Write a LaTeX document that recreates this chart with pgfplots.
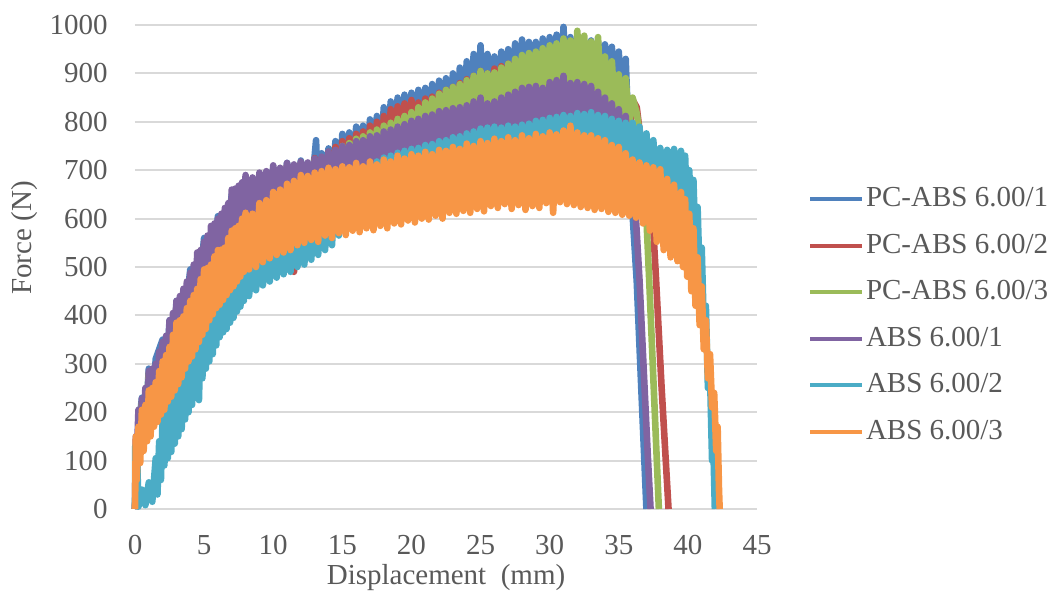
\documentclass[border=0pt]{standalone}
\usepackage{fontspec}
\setmainfont{Liberation Serif}
\usepackage{pgfplots}
\pgfplotsset{compat=1.18}
\definecolor{pcA}{HTML}{4F81BD}
\definecolor{pcB}{HTML}{C0504D}
\definecolor{pcC}{HTML}{9BBB59}
\definecolor{absA}{HTML}{8064A2}
\definecolor{absB}{HTML}{4BACC6}
\definecolor{absC}{HTML}{F79646}
\definecolor{inkMuted}{HTML}{595959}
\definecolor{gridLine}{HTML}{D9D9D9}
\newcommand{\chartfont}{\fontsize{14.5}{17}\selectfont}

\begin{document}
\begin{tikzpicture}
\begin{axis}[
  scale only axis, width=311pt, height=242pt,
  xmin=0, xmax=45, ymin=0, ymax=1000,
  xtick={0,5,...,45}, ytick={0,100,...,1000},
  scaled y ticks=false,
  /pgf/number format/1000 sep={},
  /pgf/number format/assume math mode=true,
  axis line style={draw=none}, tick style={draw=none},
  ymajorgrids, major grid style={gridLine, line width=1pt},
  clip=false,
  ticklabel style={font=\chartfont, text=inkMuted},
  yticklabel style={anchor=east, inner sep=0pt, xshift=-13.5pt},
  xticklabel style={anchor=north, inner sep=0pt, yshift=-13pt},
  xlabel={Displacement\ \ (mm)}, ylabel={Force (N)},
  every axis x label/.style={at={(axis description cs:0.5,0)}, yshift=-34.5pt,
    anchor=center, font=\chartfont, text=inkMuted},
  every axis y label/.style={at={(axis description cs:-0.178,0.56)}, rotate=90,
    anchor=center, font=\chartfont, text=inkMuted},
  every axis plot/.append style={line width=3.3pt, line join=round},
  legend cell align=left,
  legend image code/.code={\draw[#1, line width=2pt] (0pt,0pt) -- (26pt,0pt);},
  legend style={draw=none, fill=none, at={(axis description cs:1.082,0.4)},
    anchor=west, inner sep=0pt, outer sep=0pt, font=\chartfont, text=inkMuted,
    row sep=9.75pt, nodes={inner xsep=1pt, inner ysep=0pt, text height=10.5pt, text depth=3pt}},
]
% PC-ABS 6.00/1
\addplot[pcA] coordinates {
(0,0) (0.25,160) (0.5,230) (0.75,170) (1,290) (1.25,205) (1.5,310) (2,350) (2.25,270)
(2.5,390) (2.75,300) (3,430) (3.5,360) (4,495) (4.5,410) (5,560) (5.5,465) (6,605)
(6.5,510) (7,650) (7.5,545) (8,680) (8.5,565) (9,690) (9.5,580) (10,705) (10.5,595)
(11,715) (11.5,605) (12,720) (12.5,615) (13,730) (13.1,762) (13.25,625) (13.5,735)
(13.75,630) (14,745) (14.25,640) (14.5,760) (14.75,650) (15,775) (15.25,665) (15.5,778)
(15.75,675) (16,790) (16.25,685) (16.5,792) (16.75,695) (17,805) (17.25,705) (17.5,812)
(17.75,712) (18,830) (18.25,718) (18.5,842) (18.75,725) (19,850) (19.25,732) (19.5,856)
(19.75,738) (20,860) (20.25,742) (20.5,866) (20.75,748) (21,870) (21.25,752) (21.5,878)
(21.75,758) (22,885) (22.25,762) (22.5,890) (22.75,770) (23,900) (23.25,775) (23.5,912)
(23.75,780) (24,925) (24.25,785) (24.5,940) (24.75,795) (25,958) (25.25,800) (25.5,940)
(25.75,802) (26,935) (26.25,805) (26.5,945) (26.75,808) (27,950) (27.25,810) (27.5,962)
(27.75,815) (28,970) (28.25,820) (28.5,965) (28.75,822) (29,965) (29.25,825) (29.5,972)
(29.75,828) (30,975) (30.25,830) (30.5,980) (30.75,832) (31,996) (31.25,835) (31.5,975)
(31.75,835) (32,970) (32.25,834) (32.5,966) (32.75,832) (33,968) (33.25,830) (33.5,965)
(33.75,825) (34,960) (34.25,820) (34.5,955) (34.75,810) (35,945) (35.25,800) (35.5,930)
(35.8,700) (36.3,470) (37,0)};
\addlegendentry{PC-ABS 6.00/1}
% PC-ABS 6.00/2
\addplot[pcB] coordinates {
(0,0) (0.25,140) (0.5,215) (0.75,160) (1,275) (1.5,210) (2,340) (2.5,260) (3,420)
(3.5,320) (4,480) (4.5,380) (5,545) (5.5,430) (6,595) (6.5,470) (7,640) (7.5,620)
(7.75,500) (8,670) (8.5,520) (9,685) (9.4,478) (10,700) (10.5,530) (11,710) (11.5,490)
(12,715) (12.5,560) (13,725) (13.5,600) (14,738) (14.25,630) (14.5,748) (14.75,645)
(15,760) (15.25,655) (15.5,766) (15.75,668) (16,775) (16.25,678) (16.5,780) (16.75,688)
(17,792) (17.25,696) (17.5,800) (17.75,702) (18,812) (18.25,708) (18.5,826) (18.75,714)
(19,832) (19.25,720) (19.5,838) (19.75,725) (20,845) (20.25,730) (20.5,840) (20.75,735)
(21,848) (21.25,740) (21.5,852) (21.75,745) (22,860) (22.25,750) (22.5,866) (22.75,755)
(23,872) (23.25,760) (23.5,880) (23.75,765) (24,888) (24.25,770) (24.5,895) (24.75,775)
(25,905) (25.25,780) (25.5,900) (25.75,785) (26,910) (26.25,788) (26.5,915) (26.75,790)
(27,920) (27.25,795) (27.5,925) (27.75,798) (28,930) (28.25,800) (28.5,928) (28.75,802)
(29,932) (29.25,805) (29.5,935) (29.75,806) (30,938) (30.25,808) (30.5,936) (30.75,810)
(31,940) (31.25,810) (31.5,935) (31.75,808) (32,930) (32.25,806) (32.5,926) (32.75,802)
(33,920) (33.25,800) (33.5,912) (33.75,795) (34,905) (34.25,790) (34.5,895) (34.75,785)
(35,880) (35.25,778) (35.5,862) (35.75,770) (36,845) (36.3,830) (36.6,760) (37,670)
(37.5,576) (37.7,473) (38.1,250) (38.6,0)};
\addlegendentry{PC-ABS 6.00/2}
% PC-ABS 6.00/3
\addplot[pcC] coordinates {
(0,0) (0.25,150) (0.5,220) (0.75,170) (1,280) (1.5,215) (2,335) (2.5,265) (3,415)
(3.5,277) (4,470) (4.5,385) (5,540) (5.5,435) (6,590) (6.5,475) (7,635) (7.5,515)
(8,665) (8.5,540) (9,680) (9.5,560) (10,695) (10.5,575) (11,705) (11.5,590) (12,712)
(12.5,600) (13,720) (13.5,612) (14,730) (14.25,625) (14.5,740) (14.75,635) (15,750)
(15.25,645) (15.5,756) (15.75,652) (16,765) (16.25,660) (16.5,770) (16.75,668) (17,778)
(17.25,675) (17.5,784) (17.75,682) (18,792) (18.25,690) (18.5,798) (18.75,698) (19,806)
(19.25,705) (19.5,812) (19.75,712) (20,820) (20.25,718) (20.5,830) (20.75,724) (21,840)
(21.25,730) (21.5,848) (21.75,736) (22,858) (22.25,742) (22.5,866) (22.75,748) (23,872)
(23.25,754) (23.5,878) (23.75,760) (24,886) (24.25,766) (24.5,895) (24.75,772) (25,905)
(25.25,778) (25.5,900) (25.75,784) (26,902) (26.25,788) (26.5,912) (26.75,792) (27,920)
(27.25,796) (27.5,930) (27.75,800) (28,938) (28.25,804) (28.5,942) (28.75,808) (29,945)
(29.25,812) (29.5,952) (29.75,815) (30,958) (30.25,818) (30.5,962) (30.75,820) (31,972)
(31.25,822) (31.5,968) (31.75,824) (32,988) (32.25,824) (32.5,978) (32.75,822) (33,966)
(33.25,820) (33.5,975) (33.75,815) (34,935) (34.25,810) (34.5,925) (34.75,805) (35,898)
(35.25,800) (35.5,890) (35.75,795) (36,850) (36.3,818) (36.6,760) (37,600) (37.2,473)
(37.9,0)};
\addlegendentry{PC-ABS 6.00/3}
% ABS 6.00/1
\addplot[absA] coordinates {
(0,0) (0.06,150) (0.125,100) (0.25,205) (0.375,140) (0.5,228) (0.625,165) (0.75,250)
(0.875,180) (1,285) (1.125,195) (1.25,290) (1.375,210) (1.5,300) (1.625,228) (1.75,325)
(1.875,245) (2,345) (2.125,262) (2.25,358) (2.375,278) (2.5,390) (2.625,292) (2.75,405)
(2.875,305) (3,430) (3.125,320) (3.25,440) (3.375,335) (3.5,455) (3.625,350) (3.75,470)
(3.875,362) (4,488) (4.125,378) (4.25,505) (4.375,392) (4.5,530) (4.625,405) (4.75,535)
(4.875,418) (5,552) (5.125,430) (5.25,565) (5.375,442) (5.5,585) (5.625,455) (5.75,590)
(5.875,468) (6,600) (6.125,478) (6.25,610) (6.375,490) (6.5,622) (6.625,500) (6.75,632)
(6.875,510) (7,660) (7.125,518) (7.25,662) (7.375,526) (7.5,668) (7.625,532) (7.75,675)
(7.875,540) (8,690) (8.25,548) (8.5,685)
(8.75,560) (9,695) (9.25,568) (9.5,698) (9.75,575) (10,710) (10.25,582) (10.5,705)
(10.75,588) (11,715) (11.25,592) (11.5,712) (11.75,598) (12,718) (12.25,602) (12.5,716)
(12.75,608) (13,724) (13.25,612) (13.5,728) (13.75,618) (14,738) (14.25,622) (14.5,742)
(14.75,630) (15,750) (15.25,636) (15.5,752) (15.75,645) (16,760) (16.25,652) (16.5,762)
(16.75,660) (17,770) (17.25,666) (17.5,772) (17.75,672) (18,780) (18.25,676) (18.5,784)
(18.75,682) (19,790) (19.25,686) (19.5,795) (19.75,692) (20,802) (20.25,696) (20.5,806)
(20.75,702) (21,812) (21.25,706) (21.5,815) (21.75,710) (22,822) (22.25,712) (22.5,824)
(22.75,716) (23,828) (23.25,718) (23.5,830) (23.75,720) (24,834) (24.25,722) (24.5,842)
(24.75,726) (25,850) (25.25,728) (25.5,838) (25.75,730) (26,842) (26.25,732) (26.5,850)
(26.75,736) (27,856) (27.25,738) (27.5,862) (27.75,740) (28,870) (28.25,742) (28.5,872)
(28.75,744) (29,874) (29.25,746) (29.5,870) (29.75,748) (30,882) (30.25,750) (30.5,886)
(30.75,752) (31,895) (31.25,752) (31.5,880) (31.75,750) (32,882) (32.25,750) (32.5,878)
(32.75,746) (33,874) (33.25,742) (33.5,862) (33.75,738) (34,850) (34.25,734) (34.5,838)
(34.75,728) (35,826) (35.25,722) (35.5,812) (35.75,710) (36,792) (36.2,620) (36.5,473)
(36.8,290) (37.1,110) (37.3,0)};
\addlegendentry{ABS 6.00/1}
% ABS 6.00/2
\addplot[absB] coordinates {
(0,0) (0.02,130) (0.08,60) (0.15,110) (0.25,5) (0.5,40) (0.75,8) (1,55) (1.25,15)
(1.5,105) (1.625,30) (1.75,140) (1.875,60) (2,190) (2.125,90) (2.25,205) (2.375,105)
(2.5,225) (2.625,118) (2.75,240) (2.875,135) (3,258) (3.125,150) (3.25,270) (3.375,165)
(3.5,288) (3.625,185) (3.75,300) (3.875,200) (4,318) (4.125,215) (4.25,330) (4.375,230)
(4.5,345) (4.625,225) (4.75,362) (4.875,270) (5,382) (5.125,290) (5.25,395) (5.375,305)
(5.5,408) (5.625,320) (5.75,420) (5.875,338) (6,432) (6.125,355) (6.25,442) (6.375,365)
(6.5,452) (6.625,372) (6.75,462) (6.875,385) (7,475) (7.125,395) (7.25,480) (7.375,408)
(7.5,488) (7.625,418) (7.75,495) (7.875,430) (8,505)
(8.25,440) (8.5,515) (8.75,452) (9,528) (9.25,462) (9.5,540) (9.75,470) (10,565)
(10.25,478) (10.5,575) (10.75,485) (11,590) (11.25,490) (11.5,598) (11.75,500) (12,610)
(12.25,505) (12.5,615) (12.75,515) (13,622) (13.25,525) (13.5,640) (13.75,535) (14,660)
(14.25,545) (14.5,675) (14.75,565) (15,690) (15.25,575) (15.5,695) (15.75,582) (16,702)
(16.25,588) (16.5,706) (16.75,594) (17,712) (17.25,598) (17.5,718) (17.75,602) (18,726)
(18.25,606) (18.5,730) (18.75,612) (19,736) (19.25,616) (19.5,740) (19.75,618) (20,744)
(20.25,622) (20.5,746) (20.75,628) (21,752) (21.25,632) (21.5,754) (21.75,638) (22,760)
(22.25,642) (22.5,762) (22.75,646) (23,768) (23.25,650) (23.5,770) (23.75,654) (24,776)
(24.25,656) (24.5,780) (24.75,660) (25,786) (25.25,662) (25.5,788) (25.75,668) (26,790)
(26.25,672) (26.5,788) (26.75,675) (27,792) (27.25,676) (27.5,790) (27.75,680) (28,794)
(28.25,682) (28.5,796) (28.75,684) (29,802) (29.25,686) (29.5,804) (29.75,690) (30,808)
(30.25,692) (30.5,810) (30.75,694) (31,814) (31.25,696) (31.5,812) (31.75,698) (32,818)
(32.25,698) (32.5,816) (32.75,700) (33,820) (33.25,700) (33.5,814) (33.75,698) (34,812)
(34.25,696) (34.5,806) (34.75,692) (35,802) (35.25,688) (35.5,798) (35.75,684) (36,798)
(36.25,678) (36.5,790) (36.75,668) (37,776) (37.25,658) (37.5,762) (37.75,648) (38,746)
(38.25,640) (38.5,742) (38.75,636) (39,744) (39.25,630) (39.5,740) (39.65,620) (39.8,730)
(39.95,600) (40.1,700) (40.25,575) (40.4,680) (40.55,540) (40.7,624) (40.85,480) (41,540)
(41.15,380) (41.3,420) (41.45,250) (41.6,280) (41.75,100) (41.85,120) (41.95,0)};
\addlegendentry{ABS 6.00/2}
% ABS 6.00/3
\addplot[absC] coordinates {
(0,0) (0.06,150) (0.125,60) (0.25,170) (0.375,95) (0.5,205) (0.625,120) (0.75,215)
(0.875,140) (1,245) (1.125,150) (1.25,250) (1.375,170) (1.5,262) (1.625,180) (1.75,285)
(1.875,195) (2,305) (2.125,205) (2.25,318) (2.375,222) (2.5,335) (2.625,232) (2.75,360)
(2.875,245) (3,385) (3.125,258) (3.25,390) (3.375,272) (3.5,398) (3.625,290) (3.75,415)
(3.875,305) (4,430) (4.125,315) (4.25,442) (4.375,330) (4.5,455) (4.625,345) (4.75,475)
(4.875,360) (5,495) (5.125,372) (5.25,498) (5.375,390) (5.5,505) (5.625,402) (5.75,522)
(5.875,415) (6,535) (6.125,422) (6.25,536) (6.375,432) (6.5,540) (6.625,442) (6.75,560)
(6.875,452) (7,575) (7.125,460) (7.25,580) (7.375,470) (7.5,585) (7.625,480) (7.75,600)
(7.875,490) (8,612) (8.25,495) (8.5,610)
(8.75,500) (9,632) (9.25,510) (9.5,638) (9.75,518) (10,655) (10.25,525) (10.5,660)
(10.75,530) (11,672) (11.25,535) (11.5,678) (11.75,545) (12,690) (12.25,550) (12.5,688)
(12.75,556) (13,695) (13.25,552) (13.5,698) (13.75,565) (14,705) (14.25,560) (14.5,702)
(14.75,570) (15,708) (15.25,566) (15.5,706) (15.75,575) (16,715) (16.25,572) (16.5,708)
(16.75,580) (17,718) (17.25,576) (17.5,712) (17.75,585) (18,722) (18.25,580) (18.5,718)
(18.75,590) (19,730) (19.25,588) (19.5,724) (19.75,596) (20,733) (20.25,592) (20.5,730)
(20.75,600) (21,738) (21.25,598) (21.5,733) (21.75,606) (22,742) (22.25,600) (22.5,740)
(22.75,612) (23,748) (23.25,610) (23.5,744) (23.75,616) (24,755) (24.25,612) (24.5,750)
(24.75,620) (25,760) (25.25,615) (25.5,756) (25.75,626) (26,765) (26.25,622) (26.5,760)
(26.75,630) (27,768) (27.25,620) (27.5,762) (27.75,628) (28,772) (28.25,618) (28.5,766)
(28.75,626) (29,775) (29.25,622) (29.5,770) (29.75,632) (30,778) (30.25,612) (30.5,774)
(30.75,634) (31,782) (31.25,630) (31.5,792) (31.75,628) (32,778) (32.25,624) (32.5,772)
(32.75,622) (33,772) (33.25,618) (33.5,766) (33.75,620) (34,762) (34.25,614) (34.5,752)
(34.75,612) (35,748) (35.25,608) (35.5,735) (35.75,606) (36,722) (36.25,602) (36.5,716)
(36.75,590) (37,710) (37.25,575) (37.5,706) (37.75,552) (38,702) (38.25,535) (38.5,682)
(38.75,520) (39,670) (39.25,512) (39.5,655) (39.65,500) (39.8,640) (39.95,480) (40.1,610)
(40.25,450) (40.4,580) (40.55,420) (40.7,520) (40.85,380) (41,460) (41.15,330) (41.3,390)
(41.45,270) (41.6,320) (41.75,210) (41.9,240) (42.05,120) (42.15,170) (42.25,40) (42.3,0)};
\addlegendentry{ABS 6.00/3}
\end{axis}
\path ([xshift=-67.5pt,yshift=-47.5pt]current axis.south west)
  rectangle ([xshift=150pt,yshift=12.5pt]current axis.north east);
\end{tikzpicture}
\end{document}
